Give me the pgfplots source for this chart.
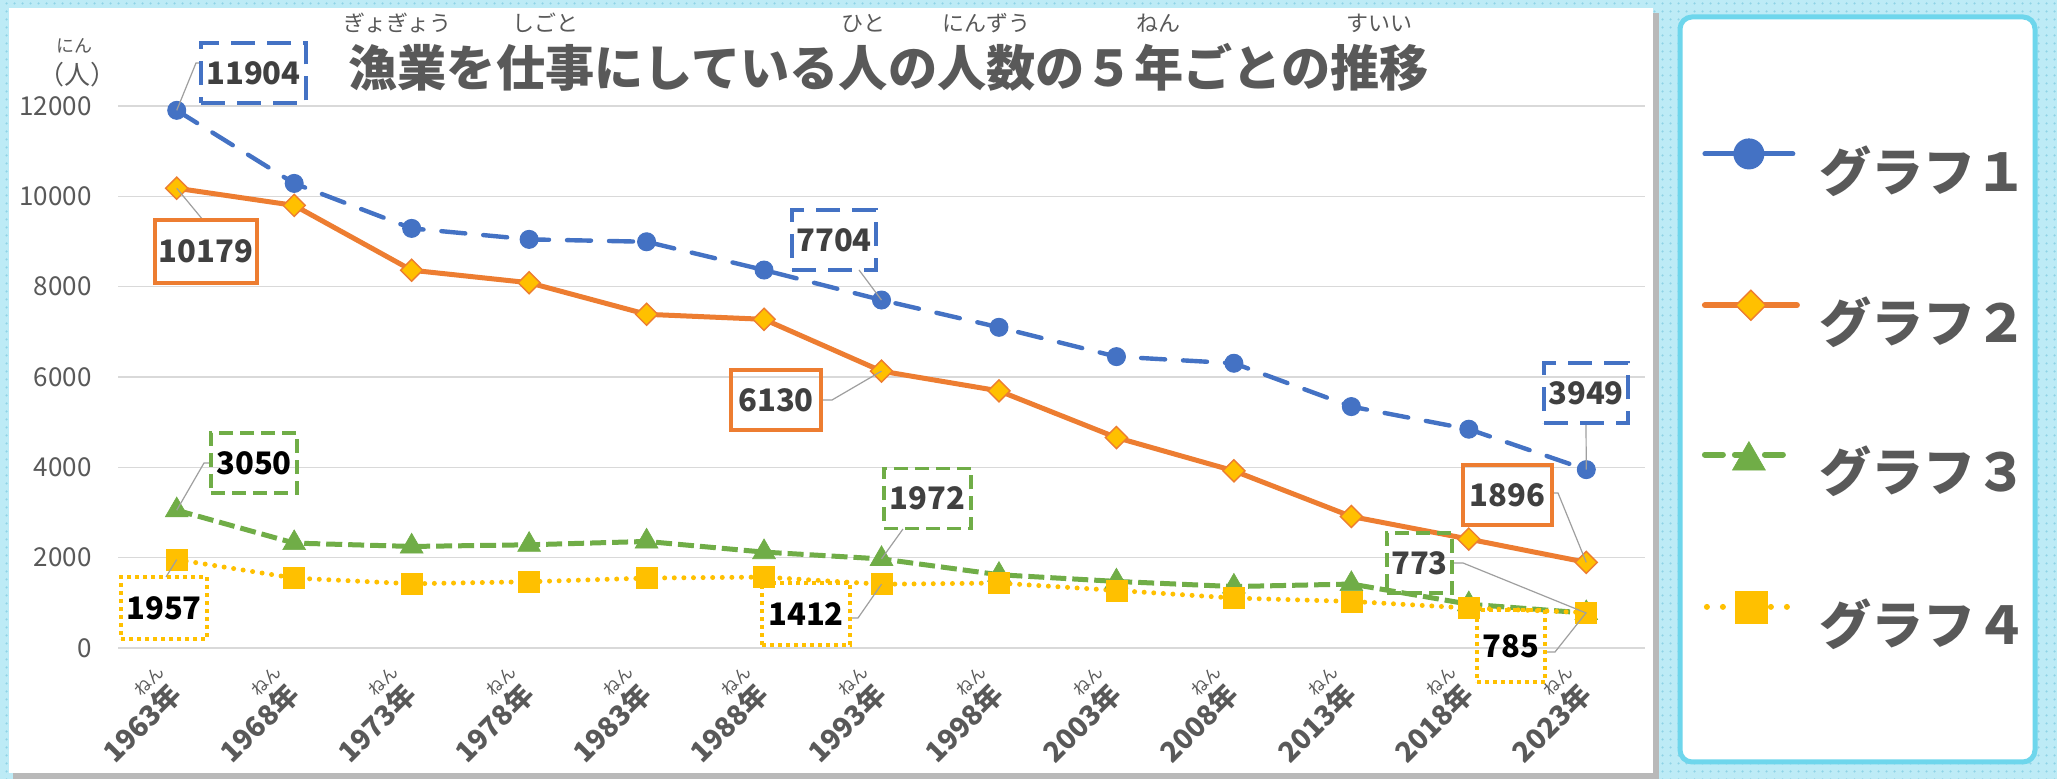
\documentclass[border=0pt]{standalone}
\usepackage{fontspec}
\setmainfont{Noto Sans CJK JP}
\usepackage{pgfplots}
\pgfplotsset{compat=1.18}
\usetikzlibrary{patterns.meta}
\definecolor{c1}{HTML}{4472C4}
\definecolor{c2}{HTML}{ED7D31}
\definecolor{c3}{HTML}{70AD47}
\definecolor{c4}{HTML}{FFC000}
\definecolor{tg}{HTML}{595959}
\definecolor{dk}{HTML}{404040}
\definecolor{gridc}{HTML}{D9D9D9}
\definecolor{bgc}{HTML}{BDEBF6}
\definecolor{dotc}{HTML}{8FD3E6}
\definecolor{brd}{HTML}{6ED6EC}
\newcommand{\rb}[4]{\setbox0\hbox{#3}\leavevmode\rlap{\makebox[\wd0][c]{\raisebox{#1}{#2#4}}}\box0\relax}
\newcommand{\rbT}{\fontsize{11pt}{11pt}\selectfont\mdseries}
\newcommand{\rbX}{\fontsize{8.5pt}{8.5pt}\selectfont\mdseries}
\newcommand{\yr}[1]{#1\rb{14.5pt}{\rbX}{年}{ねん}}

\pgfplotsset{
 leg1/.style={legend image code/.code={\draw[##1, solid, line width=2.5pt] (0pt,8pt) -- (44pt,8pt); \draw[##1, mark size=7.5pt] plot[only marks] coordinates {(22pt,8pt)};}},
 leg2/.style={legend image code/.code={\draw[##1, line width=3pt, line cap=round] (0pt,8pt) -- (46pt,8pt); \draw[##1, mark size=5.3pt] plot[only marks] coordinates {(23pt,8pt)};}},
 leg3/.style={legend image code/.code={\draw[##1, line width=3pt, line cap=round, dash pattern=on 9pt off 6pt] (0pt,8pt) -- (44pt,8pt); \draw[##1, mark size=9.5pt] plot[only marks] coordinates {(22pt,5pt)};}},
 leg4/.style={legend image code/.code={\draw[##1, line width=3pt, dash pattern=on 0pt off 8pt] (1pt,8pt) -- (45pt,8pt); \draw[##1, mark size=8pt] plot[only marks] coordinates {(23pt,8pt)};}},
}

\pgfplotstableread{
x s1 s2 s3 s4
0 11904 10179 3050 1957
1 10286 9799 2323 1548
2 9290 8364 2248 1422
3 9047 8087 2285 1467
4 8994 7388 2359 1548
5 8368 7277 2123 1570
6 7704 6130 1972 1412
7 7100 5692 1622 1438
8 6451 4659 1474 1274
9 6304 3922 1360 1106
10 5345 2912 1416 1031
11 4844 2411 970 885
12 3949 1896 773 785
}\datatable

\begin{document}
\begin{tikzpicture}[x=0.5pt,y=-0.5pt]
\useasboundingbox (0,0) rectangle (2057,779);
\fill[bgc] (0,0) rectangle (2057,779);
\fill[pattern={Dots[distance=4pt, radius=0.7pt]}, pattern color=dotc] (0,0) rectangle (2057,779);
\fill[gray!55] (13,13) rectangle (1659,779);
\fill[white] (9,8) rectangle (1653,773);
\draw[brd, line width=2.5pt, fill=white, rounded corners=6pt] (1680,17) rectangle (2035,762);

% title with ruby
\node[anchor=base west, inner sep=0pt, text=tg, font=\fontsize{24.6pt}{24.6pt}\selectfont\bfseries] at (348,87)
 {\rb{27.5pt}{\rbT}{漁業}{ぎょぎょう}を\rb{27.5pt}{\rbT}{仕事}{しごと}にしている\rb{27.5pt}{\rbT}{人}{ひと}の\rb{27.5pt}{\rbT}{人数}{にんずう}の５\rb{27.5pt}{\rbT}{年}{ねん}ごとの\rb{27.5pt}{\rbT}{推移}{すいい}};
% unit
\node[inner sep=0pt, text=tg, font=\fontsize{9pt}{9pt}\selectfont] at (74,46) {にん};
\node[inner sep=0pt, text=tg, font=\fontsize{13pt}{13pt}\selectfont] at (78,75) {（人）};

\begin{axis}[
 at={(59pt,-324pt)}, anchor=south west, scale only axis,
 width=763.5pt, height=271pt,
 xmin=-0.5, xmax=12.5, ymin=0, ymax=12000,
 axis line style={draw=none},
 major tick length=0pt,
 ymajorgrids, grid style={gridc, line width=0.8pt},
 ytick={0,2000,4000,6000,8000,10000,12000},
 xtick={0,...,12},
 xticklabels={\yr{1963},\yr{1968},\yr{1973},\yr{1978},\yr{1983},\yr{1988},\yr{1993},\yr{1998},\yr{2003},\yr{2008},\yr{2013},\yr{2018},\yr{2023}},
 scaled y ticks=false,
 yticklabel style={font=\fontsize{13pt}{13pt}\selectfont, text=tg, anchor=east, inner sep=0pt, xshift=-13pt, /pgf/number format/1000 sep={}, /pgf/number format/assume math mode=true},
 xticklabel style={xshift=3.5pt, yshift=-24pt, rotate=45, anchor=base east, inner sep=0pt, font=\fontsize{14pt}{14pt}\selectfont\bfseries, text=tg},
 clip=false,
 legend style={at={(axis description cs:1.037,0.94)}, anchor=north west, draw=none, fill=none, inner sep=0pt, row sep=48pt, font=\fontsize{26pt}{26pt}\selectfont\bfseries, text=tg, nodes={inner sep=0pt}},
 legend cell align=left,
]
\addplot[c1, line width=2.2pt, line cap=round, dash pattern=on 12pt off 9pt, mark=*, mark size=4.5pt, mark options={solid, fill=c1, draw=c1, line width=0.5pt}, leg1] table[x=x,y=s1] {\datatable};
\addlegendentry{\hspace*{10pt}グラフ１}
\addplot[c2, line width=2.5pt, mark=square*, mark size=3.9pt, mark options={solid, rotate=45, fill=c4, draw=c2, line width=0.7pt}, leg2] table[x=x,y=s2] {\datatable};
\addlegendentry{\hspace*{10pt}グラフ２}
\addplot[c3, line width=2.5pt, dash pattern=on 8pt off 3pt, mark=triangle*, mark size=6.6pt, mark options={solid, fill=c3, draw=c3, line width=0.3pt}, leg3] table[x=x,y=s3] {\datatable};
\addlegendentry{\hspace*{10pt}グラフ３}
\addplot[c4, line width=2.5pt, line cap=round, dash pattern=on 0pt off 4.8pt, mark=square*, mark size=5.25pt, mark options={solid, fill=c4, draw=c4, line width=0.3pt}, leg4] table[x=x,y=s4] {\datatable};
\addlegendentry{\hspace*{10pt}グラフ４}
\coordinate (b0) at (axis cs:0,11904);
\coordinate (b6) at (axis cs:6,7704);
\coordinate (b12) at (axis cs:12,3949);
\coordinate (o0) at (axis cs:0,10179);
\coordinate (o6) at (axis cs:6,6130);
\coordinate (o12) at (axis cs:12,1896);
\coordinate (g0) at (axis cs:0,3050);
\coordinate (g6) at (axis cs:6,1972);
\coordinate (g12) at (axis cs:12,773);
\coordinate (y0) at (axis cs:0,1957);
\coordinate (y6) at (axis cs:6,1412);
\coordinate (y12) at (axis cs:12,785);
\end{axis}

\tikzset{
 lab/.style={inner sep=0pt, font=\fontsize{15.5pt}{15.5pt}\selectfont\bfseries},
 lb1/.style={lab, draw=c1, line width=2pt, dash pattern=on 12pt off 6pt, text=dk, minimum height=30pt},
 lb2/.style={lab, draw=c2, line width=2pt, text=dk, minimum height=30pt},
 lb3/.style={lab, draw=c3, line width=1.6pt, dash pattern=on 7pt off 3.5pt, minimum height=30pt},
 lb4/.style={lab, draw=c4, line width=2pt, dash pattern=on 2pt off 2pt, text=black, minimum height=31pt},
 ld/.style={draw=gray!75, line width=0.6pt}
}
% leaders
\draw[ld] (b0) -- (196,63) -- (201,63);
\draw[ld] (o0) -- (203,220);
\draw[ld] (b6) -- (859,270);
\draw[ld] (o6) -- (832,400) -- (821,400);
\draw[ld] (b12) -- (1586,424);
\draw[ld] (o12) -- (1558,493) -- (1552,493);
\draw[ld] (g0) -- (204,463) -- (211,463);
\draw[ld] (g6) -- (903,529);
\draw[ld] (g12) -- (1463,563) -- (1452,563);
\draw[ld] (y0) -- (166,577);
\draw[ld] (y6) -- (858,618) -- (850,618);
\draw[ld] (y12) -- (1555,652) -- (1545,652);
% labels
\node[lb1, minimum width=52.5pt] at (253.5,73.5) {11904};
\node[lb1, minimum width=42pt] at (834,240) {7704};
\node[lb1, minimum width=42pt] at (1586,393.5) {3949};
\node[lb2, minimum width=51pt, minimum height=31.5pt] at (206,251.5) {10179};
\node[lb2, minimum width=45pt] at (776,400.5) {6130};
\node[lb2, minimum width=44.5pt] at (1507.5,495.5) {1896};
\node[lb3, minimum width=43pt, text=black] at (254,463) {3050};
\node[lb3, minimum width=43.5pt, text=dk] at (927.5,498.5) {1972};
\node[lb3, minimum width=32.5pt, text=dk] at (1419.5,563) {773};
\node[lb4, minimum width=43pt] at (164,608) {1957};
\node[lb4, minimum width=44pt] at (806,614.5) {1412};
\node[lb4, minimum width=34pt, minimum height=36pt] at (1511,646) {785};
\end{tikzpicture}
\end{document}
